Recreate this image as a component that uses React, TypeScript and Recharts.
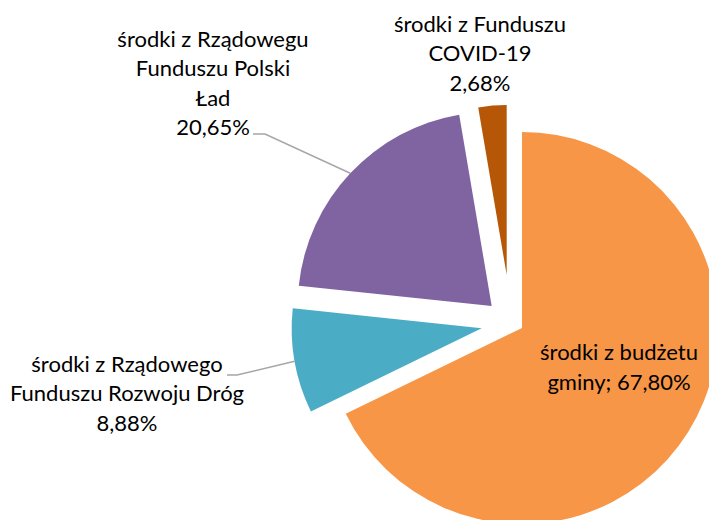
import { Cell, Pie, PieChart } from "recharts";

const categories = [
  "środki z budżetu gminy",
  "środki z Rządowego Funduszu Rozwoju Dróg",
  "środki z Rządowegu Funduszu Polski Ład",
  "środki z Funduszu COVID-19",
];
const shares = [67.8, 8.88, 20.65, 2.68];
const labelTexts = [
  ["środki z budżetu", "gminy; 67,80%"],
  ["środki z Rządowego", "Funduszu Rozwoju Dróg", "8,88%"],
  ["środki z Rządowegu", "Funduszu Polski", "Ład", "20,65%"],
  ["środki z Funduszu", "COVID-19", "2,68%"],
];
const colors = ["#F79646", "#4BACC6", "#8064A2", "#B65708"];

const data = categories.map((name, i) => ({ name, value: shares[i] }));

// exploded slices: each one has its own centre / radius
const layout = [
  { cx: 522, cy: 328, r: 196, lx: 619, ly: 360, lead: null },
  { cx: 481.7, cy: 328.3, r: 190, lx: 127, ly: 371.7, lead: [[227, 375], [237, 375]] },
  { cx: 491.7, cy: 306, r: 194, lx: 213, ly: 46.7, lead: [[253, 134], [265, 134]] },
  { cx: 506.7, cy: 275, r: 170, lx: 480, ly: 31.7, lead: null },
];

const FONT = "Lato, 'Open Sans', sans-serif";
const RAD = Math.PI / 180;

function sliceIndex(p: any): number {
  const name = p?.name ?? p?.payload?.name;
  return categories.indexOf(name);
}

function makeLabel(k: number) {
  return (p: any) => {
    if (sliceIndex(p) !== k) return null;
    const L = layout[k];
    return (
      <text x={L.lx} y={L.ly} textAnchor="middle" fontFamily={FONT} fontSize={22} fill="#000">
        {labelTexts[k].map((t, j) => (
          <tspan key={j} x={L.lx} dy={j === 0 ? 0 : 29.5}>{t}</tspan>
        ))}
      </text>
    );
  };
}

function makeLine(k: number) {
  return (p: any) => {
    if (sliceIndex(p) !== k || !layout[k].lead) return <g />;
    const L = layout[k];
    const mid = p.midAngle;
    const ex = p.cx + p.outerRadius * Math.cos(-mid * RAD);
    const ey = p.cy + p.outerRadius * Math.sin(-mid * RAD);
    const pts = [...(L.lead as number[][]), [ex, ey]].map((q) => q.join(",")).join(" ");
    return <polyline points={pts} fill="none" stroke="#A6A6A6" strokeWidth={1.5} />;
  };
}

export default function App() {
  return (
    <div style={{ position: "absolute", left: 0, top: 0, width: 709, height: 520, background: "#fff" }}>
      <PieChart width={709} height={520} margin={{ top: 0, right: 0, bottom: 0, left: 0 }}>
        {layout.map((L, k) => (
          <Pie
            key={k}
            data={data}
            dataKey="value"
            nameKey="name"
            cx={L.cx}
            cy={L.cy}
            outerRadius={L.r}
            startAngle={90}
            endAngle={-270}
            stroke="none"
            label={makeLabel(k)}
            labelLine={makeLine(k)}
            isAnimationActive={false}
          >
            {data.map((d, i) => (
              <Cell key={d.name} fill={i === k ? colors[k] : "transparent"} />
            ))}
          </Pie>
        ))}
      </PieChart>
    </div>
  );
}
